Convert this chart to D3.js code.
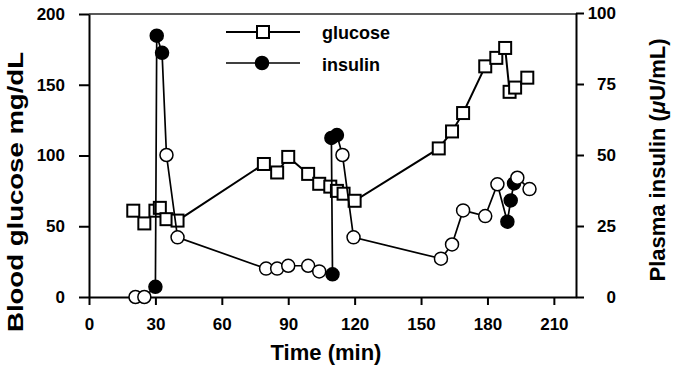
<html>
<head>
  <meta charset="utf-8" />
  <script src="https://cdnjs.cloudflare.com/ajax/libs/d3/7.8.5/d3.min.js"></script>
  <style>
    body { margin: 0; background: #fff; }
    text { font-family: "Liberation Sans", Arial, sans-serif; font-weight: bold; fill: #000; }
    .axis path, .axis line { stroke: #000; stroke-width: 2; }
    .axis text { font-size: 17px; font-family: "Liberation Sans", Arial, sans-serif; font-weight: bold; }
  </style>
</head>
<body>
  <svg width="674" height="369"></svg>
<script>

var glucoseTime  = [20, 25, 30, 32, 35, 40, 79, 85, 90, 99, 104, 109, 112, 115, 120, 158, 164, 169, 179, 184, 188, 190, 192.5, 198];
var glucoseValue = [61, 52, 61, 63, 55, 54, 94, 88, 99, 87, 80, 78, 75, 73, 68, 105, 117, 130, 163, 169, 176, 145, 148, 155];

var insulinTime   = [21, 25, 30, 30.6, 33, 35, 40, 80, 85, 90, 99, 104, 110, 109.5, 112, 114.5, 119.5, 159, 164, 169, 179, 184.5, 189, 190.5, 192, 193.5, 199];
var insulinValue  = [0, 0, 3.6, 92, 86, 50, 21, 10, 10, 11, 11, 9, 8, 56, 57, 50, 21, 13.5, 18.5, 30.5, 28.5, 39.7, 26.5, 34, 40, 42, 38];
var insulinFilled = [0, 0, 1, 1, 1, 0, 0, 0, 0, 0, 0, 0, 1, 1, 1, 0, 0, 0, 0, 0, 0, 0, 1, 1, 1, 0, 0];

var xTicks = [0, 30, 60, 90, 120, 150, 180, 210];
var glucoseTicks = [0, 50, 100, 150, 200];
var insulinTicks = [0, 25, 50, 75, 100];

var svg = d3.select("svg");

var xScale = d3.scaleLinear().domain([0, 220]).range([89, 576]);
var yLeft = d3.scaleLinear().domain([0, 200]).range([297, 14]);
var yRight = d3.scaleLinear().domain([0, 100]).range([297, 13]);

// frame top line
svg.append("line")
    .attr("x1", xScale(0)).attr("x2", xScale(220))
    .attr("y1", yLeft(200)).attr("y2", yLeft(200))
    .attr("stroke", "#222").attr("stroke-width", 1.3);

var xAxis = svg.append("g").attr("class", "axis")
    .attr("transform", "translate(0," + yLeft(0) + ")")
    .call(d3.axisBottom(xScale).tickValues(xTicks).tickSizeInner(8).tickSizeOuter(0).tickPadding(13));

svg.append("g").attr("class", "axis")
    .attr("transform", "translate(" + xScale(0) + ",0)")
    .call(d3.axisLeft(yLeft).tickValues(glucoseTicks).tickSizeInner(10).tickSizeOuter(0).tickPadding(14));

var rAxis = svg.append("g").attr("class", "axis")
    .attr("transform", "translate(" + xScale(220) + ",0)")
    .call(d3.axisRight(yRight).tickValues(insulinTicks).tickSizeInner(8).tickSizeOuter(0));
rAxis.selectAll("text").attr("text-anchor", "end").attr("x", 40);

svg.selectAll(".axis .domain").attr("fill", "none");

// axis titles
svg.append("text")
    .attr("x", 326).attr("y", 360)
    .attr("text-anchor", "middle")
    .style("font-size", "22px")
    .text("Time (min)");

svg.append("text")
    .attr("transform", "translate(23,192) rotate(-90)")
    .attr("text-anchor", "middle")
    .attr("textLength", 280)
    .attr("lengthAdjust", "spacingAndGlyphs")
    .style("font-size", "22px")
    .text("Blood glucose mg/dL");

var rt = svg.append("text")
    .attr("transform", "translate(665,160) rotate(-90)")
    .attr("text-anchor", "middle")
    .style("font-size", "22px");
rt.append("tspan").text("Plasma insulin (");
rt.append("tspan").style("font-style", "italic").text("\u03bc");
rt.append("tspan").text("U/mL)");

// glucose series
var glucose = glucoseTime.map((t, i) => ({ t: t, v: glucoseValue[i] }));
var gLine = d3.line().x(d => xScale(d.t)).y(d => yLeft(d.v));
svg.append("path")
    .attr("d", gLine(glucose))
    .attr("fill", "none")
    .attr("stroke", "#000")
    .attr("stroke-width", 2);
svg.selectAll("rect.glu")
    .data(glucose)
    .enter().append("rect")
    .attr("class", "glu")
    .attr("x", d => xScale(d.t) - 6)
    .attr("y", d => yLeft(d.v) - 6)
    .attr("width", 12).attr("height", 12)
    .attr("fill", "#fff")
    .attr("stroke", "#000")
    .attr("stroke-width", 2);

// insulin series
var insulin = insulinTime.map((t, i) => ({ t: t, v: insulinValue[i], f: insulinFilled[i] }));
var iLine = d3.line().x(d => xScale(d.t)).y(d => yRight(d.v));
svg.append("path")
    .attr("d", iLine(insulin))
    .attr("fill", "none")
    .attr("stroke", "#000")
    .attr("stroke-width", 1.7);
svg.selectAll("circle.ins")
    .data(insulin)
    .enter().append("circle")
    .attr("class", "ins")
    .attr("cx", d => xScale(d.t))
    .attr("cy", d => yRight(d.v))
    .attr("r", 6.5)
    .attr("fill", d => d.f ? "#000" : "#fff")
    .attr("stroke", "#000")
    .attr("stroke-width", 1.5);

// legend
var legend = svg.append("g");
legend.append("line").attr("x1", 226).attr("x2", 300).attr("y1", 32).attr("y2", 32)
    .attr("stroke", "#000").attr("stroke-width", 2);
legend.append("rect").attr("x", 257).attr("y", 26).attr("width", 12).attr("height", 12)
    .attr("fill", "#fff").attr("stroke", "#000").attr("stroke-width", 2);
legend.append("text").attr("x", 322).attr("y", 39).style("font-size", "18px").text("glucose");

legend.append("line").attr("x1", 226).attr("x2", 300).attr("y1", 63).attr("y2", 63)
    .attr("stroke", "#000").attr("stroke-width", 1.7);
legend.append("circle").attr("cx", 262).attr("cy", 63).attr("r", 6.5)
    .attr("fill", "#000").attr("stroke", "#000").attr("stroke-width", 1.5);
legend.append("text").attr("x", 322).attr("y", 71).style("font-size", "18px").text("insulin");

</script>
</body>
</html>
